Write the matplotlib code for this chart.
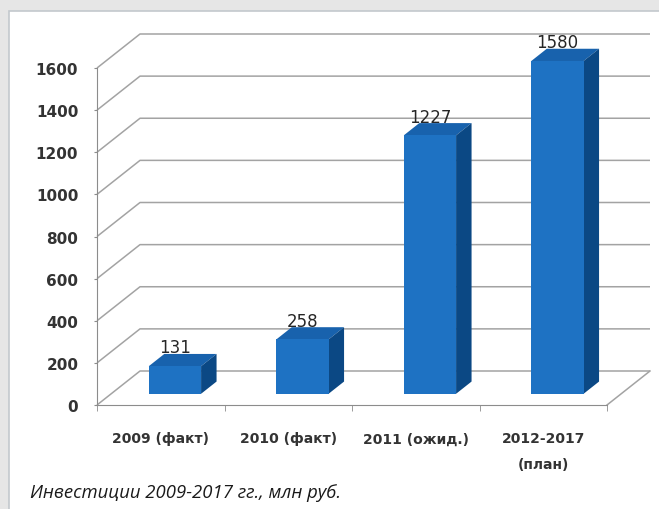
import matplotlib
matplotlib.use('Agg')
import matplotlib.pyplot as plt
from matplotlib.patches import Rectangle, Polygon

# dados do grafico
categorias = ['2009 (факт)', '2010 (факт)', '2011 (ожид.)', '2012-2017\n(план)']
valores = [131, 258, 1227, 1580]
ticks_y = [0, 200, 400, 600, 800, 1000, 1200, 1400, 1600]
legenda = 'Инвестиции 2009-2017 гг., млн руб.'

W, H = 659, 510
fig = plt.figure(figsize=(W / 100, H / 100), dpi=100, facecolor='#e6e6e6')

# painel branco com borda
fig.add_artist(Rectangle((9 / W, -0.1), 1.2, (H - 12) / H + 0.1, transform=fig.transFigure,
                         facecolor='white', edgecolor='#c3c8cd', linewidth=1.2, zorder=0))

ax = fig.add_axes([97 / W, (H - 406) / H, 510 / W, 337 / H])
ax.set_facecolor('none')
ax.set_xlim(-0.5, 3.5)
ax.set_ylim(0, 1600)

# profundidade do "3D" em unidades dos dados
DX = 43 / 127.5
DY = 34 / (337 / 1600)
cor_grade = '#a3a3a3'

# parede do fundo + linhas obliquas
for v in ticks_y:
    ax.plot([-0.5, -0.5 + DX, 3.5 + DX], [v, v + DY, v + DY], color=cor_grade, lw=1.1,
            clip_on=False, zorder=1, solid_capstyle='butt')
ax.plot([3.5, 3.5 + DX], [0, DY], color=cor_grade, lw=1.1, clip_on=False, zorder=1)

# barras
larg = 0.41
d0 = 0.33   # posicao da frente da barra na profundidade
dp = 0.36   # profundidade da barra
cor_frente = '#1e72c3'
cor_topo = '#1862ad'
cor_lado = '#0b4884'
for i, v in enumerate(valores):
    x0 = i - larg / 2 + d0 * DX
    b = d0 * DY
    topo = [(x0, b + v), (x0 + larg, b + v), (x0 + larg + dp * DX, b + v + dp * DY),
            (x0 + dp * DX, b + v + dp * DY)]
    lado = [(x0 + larg, b), (x0 + larg, b + v), (x0 + larg + dp * DX, b + v + dp * DY),
            (x0 + larg + dp * DX, b + dp * DY)]
    ax.add_patch(Polygon(topo, closed=True, facecolor=cor_topo, edgecolor='none', zorder=3, clip_on=False))
    ax.add_patch(Polygon(lado, closed=True, facecolor=cor_lado, edgecolor='none', zorder=3, clip_on=False))
    ax.add_patch(Rectangle((x0, b), larg, v, facecolor=cor_frente, edgecolor='none', zorder=4, clip_on=False))
    ax.text(i + d0 * DX, b + v + dp * DY - 12, str(v), ha='center', va='bottom',
            fontsize=12, color='#262626', zorder=5)

# eixos
for s in ['top', 'right']:
    ax.spines[s].set_visible(False)
ax.spines['left'].set_color('#8c8c8c')
ax.spines['bottom'].set_color('#8c8c8c')
ax.spines['left'].set_zorder(2)
ax.spines['bottom'].set_zorder(2)

ax.set_yticks(ticks_y)
ax.set_yticklabels([str(t) for t in ticks_y])
ax.tick_params(axis='y', direction='out', length=2.5, color='#8c8c8c', pad=11,
               labelsize=11, labelcolor='#333333')
for lbl in ax.get_yticklabels():
    lbl.set_fontweight('bold')

ax.set_xticks(range(len(categorias)))
ax.set_xticklabels(categorias, linespacing=2.1)
ax.set_xticks([-0.5, 0.5, 1.5, 2.5, 3.5], minor=True)
ax.tick_params(axis='x', which='major', length=0, pad=19, labelsize=10, labelcolor='#333333')
ax.tick_params(axis='x', which='minor', direction='out', length=4, color='#8c8c8c')
for lbl in ax.get_xticklabels():
    lbl.set_fontweight('bold')

fig.text(30 / W, (H - 498) / H, legenda, fontsize=13.3, style='italic', family='Open Sans',
         color='#1a1a1a', va='baseline', ha='left')

fig.savefig('out.png', dpi=100, facecolor=fig.get_facecolor())
